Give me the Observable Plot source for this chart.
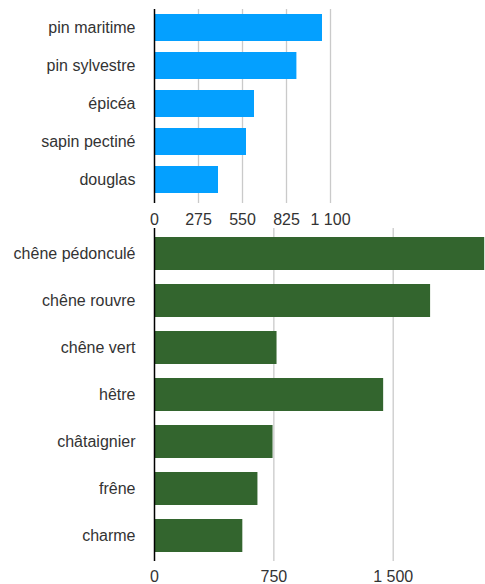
<!DOCTYPE html>
<html>
<head>
<meta charset="utf-8">
<script src="https://cdn.jsdelivr.net/npm/d3@7"></script>
<script src="https://cdn.jsdelivr.net/npm/@observablehq/plot@0.6"></script>
<style>
  html, body { margin: 0; padding: 0; background: #fff; }
  #chart { width: 485px; height: 584px; overflow: hidden; }
  #chart svg { display: block; }
</style>
</head>
<body>
<div id="chart"></div>
<script>
const conifers = ["pin maritime", "pin sylvestre", "épicéa", "sapin pectiné", "douglas"];
const coniferValues = [1050, 890, 625, 575, 400];
const coniferTicks = [0, 275, 550, 825, 1100];

const broadleaves = ["chêne pédonculé", "chêne rouvre", "chêne vert", "hêtre", "châtaignier", "frêne", "charme"];
const broadleafValues = [2075, 1735, 770, 1440, 745, 650, 555];
const broadleafTicks = [0, 750, 1500];

const fr = d3.formatLocale({decimal: ",", thousands: "\u00a0", grouping: [3], currency: ["", " €"]});
const fmt = fr.format(",");

const font = "'Liberation Sans', Arial, Helvetica, sans-serif";
const textColor = "#333";
const gridColor = "#cacaca";

const topData = conifers.map((name, i) => ({name, value: coniferValues[i]}));
const bottomData = broadleaves.map((name, i) => ({name, value: broadleafValues[i]}));

function panel({data, names, ticks, domainMax, color, height, marginTop, marginBottom, marginRight, paddingInner, paddingOuter, align, tickPadding}) {
  return Plot.plot({
    width: 485,
    height,
    marginLeft: 154,
    marginRight,
    marginTop,
    marginBottom,
    style: {fontFamily: font, fontSize: "16px", color: textColor, background: "transparent", overflow: "hidden"},
    x: {domain: [0, domainMax], ticks, tickFormat: fmt, tickSize: 0, tickPadding, label: null},
    y: {domain: names, paddingInner, paddingOuter, align, tickSize: 0, tickPadding: 19, label: null},
    marks: [
      Plot.ruleX(ticks.filter(t => t > 0), {stroke: gridColor, strokeWidth: 1.3}),
      Plot.barX(data, {x: "value", y: "name", fill: color}),
      Plot.ruleX([0], {stroke: "#000", strokeWidth: 1.5}),
      Plot.axisX({ticks, tickFormat: fmt, tickSize: 0, tickPadding, fill: textColor, fontSize: 16}),
      Plot.axisY({tickSize: 0, tickPadding: 19, fill: textColor, fontSize: 16})
    ]
  });
}

const chart = document.getElementById("chart");
chart.appendChild(panel({
  data: topData, names: conifers, ticks: coniferTicks, domainMax: 1100, color: "#04a0ff",
  height: 228, marginTop: 9, marginBottom: 25, marginRight: 155,
  paddingInner: 0.29, paddingOuter: 0.14, align: 0.35, tickPadding: 10
}));
chart.appendChild(panel({
  data: bottomData, names: broadleaves, ticks: broadleafTicks, domainMax: 2080, color: "#33652e",
  height: 356, marginTop: 0, marginBottom: 23, marginRight: 0,
  paddingInner: 0.3, paddingOuter: 0.19, align: 0.5, tickPadding: 9
}));
</script>
</body>
</html>
